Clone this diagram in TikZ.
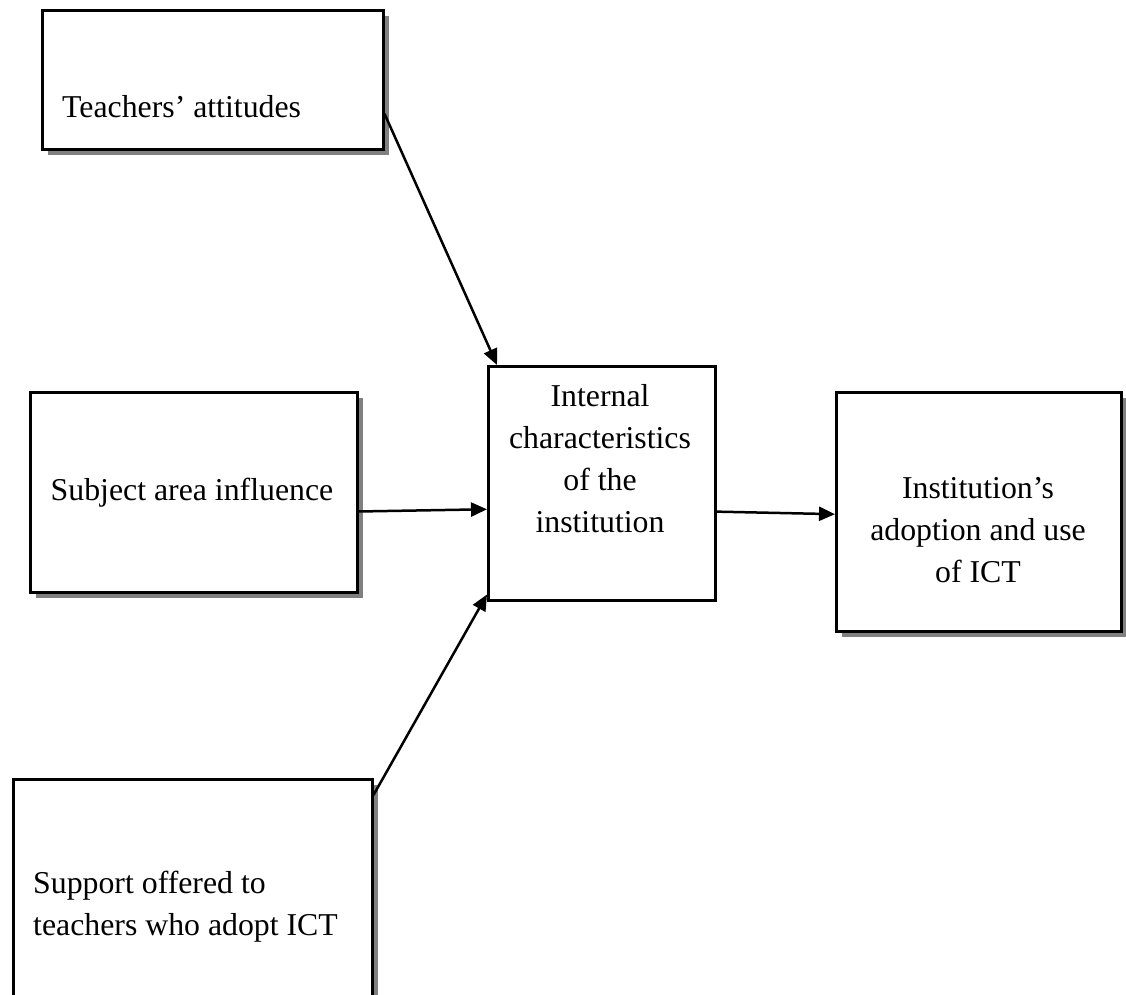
\documentclass[tikz,border=0pt]{standalone}
\usepackage{fontspec}
\setmainfont{Liberation Serif}
\usetikzlibrary{arrows.meta,shadows,calc}
\begin{document}
\begin{tikzpicture}[x=1pt,y=-1pt,
  plainbox/.style={draw,line width=2.5pt,fill=white,inner sep=0pt,anchor=north west},
  box/.style={plainbox,drop shadow={shadow xshift=6pt,shadow yshift=-6pt,fill=black!50,opacity=1}},
  lbl/.style={inner sep=0pt,font=\fontsize{31.8}{42}\selectfont},
  conn/.style={line width=2.5pt,-{Triangle[length=16pt,width=14pt]}}]
\useasboundingbox (0,0) rectangle (1126,994);
\clip (0,0) rectangle (1126,994);
% boxes
\node[box,minimum width=341pt,minimum height=139pt] (b1) at (41,9) {};
\node[box,minimum width=327pt,minimum height=200pt] (b2) at (29,391) {};
\node[plainbox,minimum width=227pt,minimum height=234pt] (b3) at (487,365) {};
\node[box,minimum width=285pt,minimum height=239pt] (b4) at (835,391) {};
\node[box,minimum width=359pt,minimum height=230pt] (b5) at (12,778) {};
% labels
\node[lbl,anchor=base west] (t1) at (62,117) {Teachers’ attitudes};
\node[lbl,anchor=base] (t2) at (192,500) {Subject area influence};
\node[lbl,align=center,anchor=north] (t3) at (600,384) {Internal\\characteristics\\of the\\institution};
\node[lbl,align=center,anchor=north] (t4) at (978,477) {Institution’s\\adoption and use\\of ICT};
\node[lbl,align=left,anchor=north west] (t5) at (33,871) {Support offered to\\teachers who adopt ICT};
% connectors
\draw[conn] ($(b1.north east)!0.74!(b1.south east)$) -- ([xshift=10pt]b3.north west);
\draw[conn] ($(b2.north east)!0.595!(b2.south east)$) -- ($(b3.north west)!0.61!(b3.south west)$);
\draw[conn] ($(b5.north east)+(0,17)$) -- ($(b3.south west)+(0,-7)$);
\draw[conn] ($(b3.north east)!0.62!(b3.south east)$) -- ($(b4.north west)!0.51!(b4.south west)$);
\end{tikzpicture}
\end{document}
